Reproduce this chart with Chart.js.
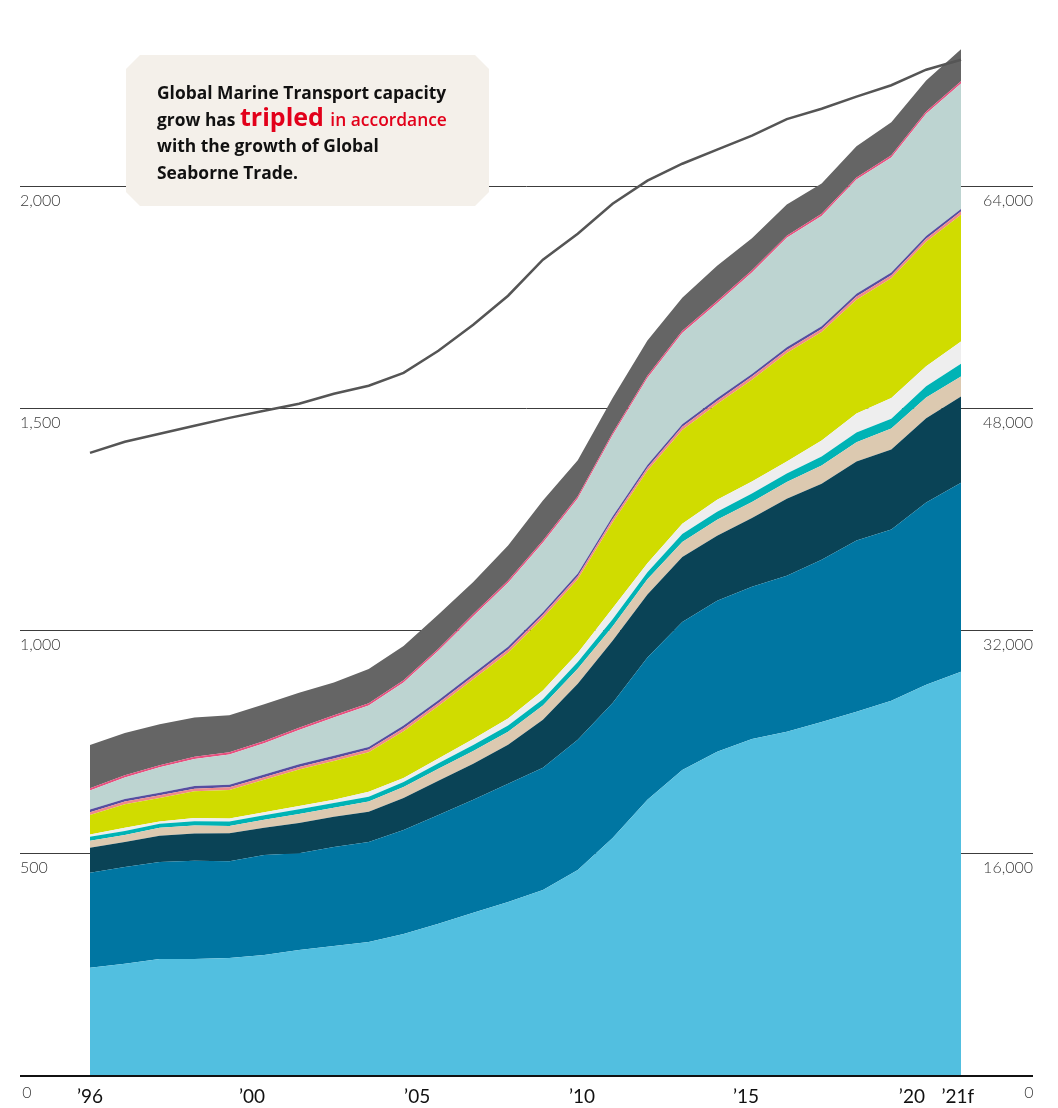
<!DOCTYPE html>
<html>
<head>
<meta charset="utf-8">
<script src="https://cdn.jsdelivr.net/npm/chart.js@4"></script>
<style>
  html, body { margin: 0; padding: 0; background: #fff; }
  #wrap { width: 1058px; height: 1108px; position: relative; }
</style>
</head>
<body>
<div id="wrap"><canvas id="capacityChart"></canvas></div>
<script>
// Years on the x axis
const years = ['1996','1997','1998','1999','2000','2001','2002','2003','2004','2005','2006','2007','2008',
               '2009','2010','2011','2012','2013','2014','2015','2016','2017','2018','2019','2020','2021f'];

// Stacked capacity layers, bottom to top (left axis)
const lightBlue = [241,250,261,261,263,270,281,290,299,317,340,365,389,416,461,533,619,686,727,756,772,794,817,842,878,907];
const midBlue   = [214,218,218,221,218,225,218,223,225,234,245,254,266,275,293,304,320,333,340,342,351,365,385,385,410,425];
const navy      = [56,56,59,61,63,61,68,68,68,72,77,81,88,108,126,140,142,146,146,155,173,171,178,180,189,194];
const tan       = [16,16,18,18,16,18,20,20,23,25,27,29,29,32,34,32,34,34,36,36,38,41,43,47,47,45];
const cyan      = [9,9,9,10,10,10,11,11,11,11,12,13,14,14,15,16,16,18,18,19,19,20,22,22,25,29];
const offWhite  = [5,7,5,7,7,7,7,7,11,9,11,14,16,20,20,25,20,23,27,27,27,36,43,47,45,50];
const lime      = [44,53,53,60,64,73,82,87,89,105,118,134,148,163,166,193,208,211,215,229,244,244,256,269,280,285];
const salmon    = [6,6,6,6,6,6,6,6,6,7,7,7,7,7,7,7,7,7,7,7,7,7,7,7,7,7];
const purple    = [6,6,6,6,6,6,6,6,6,6,6,6,6,6,6,6,6,6,6,6,6,6,6,6,6,6];
const sage      = [43,48,57,61,68,70,77,86,93,97,111,129,144,156,169,183,196,205,214,228,246,248,257,259,275,282];
const pink      = [5,5,5,5,5,5,5,5,5,5,5,5,5,5,5,5,5,5,5,5,5,5,5,5,5,5];
const darkGray  = [97,95,92,88,83,83,79,74,77,77,77,72,79,90,81,79,79,74,79,72,70,68,70,74,70,72];

// Global seaborne trade line (right axis)
const seaborneTrade = [44780,45580,46150,46730,47300,47810,48310,49030,49610,50540,52130,54000,56090,
                       58680,60550,62710,64370,65590,66600,67610,68800,69550,70420,71240,72360,73080];

// Axis ticks
const leftTicks = [0, 500, 1000, 1500, 2000];
const rightTicks = [0, 16000, 32000, 48000, 64000];
const xTickLabels = ['\u201996', '\u201900', '\u201905', '\u201910', '\u201915', '\u201920', '\u201921f'];
const xTickAt = [0, 4.65, 9.39, 14.12, 18.83, 23.59, 24.91];

const layers = [
  { data: lightBlue, color: '#52bfe0' },
  { data: midBlue,   color: '#0076a2' },
  { data: navy,      color: '#0a4356' },
  { data: tan,       color: '#dcc9b0' },
  { data: cyan,      color: '#00b3b5' },
  { data: offWhite,  color: '#eeeeee' },
  { data: lime,      color: '#d0dc00' },
  { data: salmon,    color: '#f08a8a' },
  { data: purple,    color: '#554ea0' },
  { data: sage,      color: '#bdd4d1' },
  { data: pink,      color: '#e8507f' },
  { data: darkGray,  color: '#656565' }
];

const datasets = layers.map((l, i) => ({
  data: l.data,
  yAxisID: 'y',
  backgroundColor: l.color,
  borderWidth: 0,
  pointRadius: 0,
  tension: 0,
  fill: i === 0 ? 'origin' : '-1'
}));
datasets.push({
  data: seaborneTrade,
  yAxisID: 'y2',
  borderColor: '#555555',
  borderWidth: 2.5,
  pointRadius: 0,
  tension: 0,
  fill: false,
  order: -1
});

const fmt = v => v.toLocaleString('en-US');

const decor = {
  id: 'decor',
  beforeDatasetsDraw(chart) {
    const ctx = chart.ctx, y = chart.scales.y, y2 = chart.scales.y2;
    ctx.save();
    ctx.strokeStyle = '#3c3c3c';
    ctx.lineWidth = 1;
    leftTicks.forEach(v => {
      if (v === 0) return;
      const py = Math.round(y.getPixelForValue(v)) + 0.5;
      ctx.beginPath(); ctx.moveTo(20, py); ctx.lineTo(1033, py); ctx.stroke();
    });
    ctx.fillStyle = '#3a3a3a';
    ctx.font = '300 16px Lato';
    ctx.textBaseline = 'alphabetic';
    leftTicks.forEach(v => {
      if (v === 0) return;
      ctx.textAlign = 'left';
      ctx.fillText(fmt(v), 20, y.getPixelForValue(v) + 20);
    });
    rightTicks.forEach(v => {
      if (v === 0) return;
      ctx.textAlign = 'right';
      ctx.fillText(fmt(v), 1033, y2.getPixelForValue(v) + 20);
    });
    ctx.restore();
  },
  afterDatasetsDraw(chart) {
    const ctx = chart.ctx, x = chart.scales.x, y = chart.scales.y;
    ctx.save();
    // baseline
    const by = y.getPixelForValue(0) + 1;
    ctx.strokeStyle = '#111';
    ctx.lineWidth = 2;
    ctx.beginPath(); ctx.moveTo(20, by); ctx.lineTo(1033, by); ctx.stroke();

    ctx.fillStyle = '#3a3a3a';
    ctx.font = '300 16px Lato';
    ctx.textAlign = 'center';
    ctx.fillText('0', 27, by + 22);
    ctx.fillText('0', 1029, by + 22);

    // year labels
    ctx.fillStyle = '#111';
    ctx.font = '19px Lato';
    xTickLabels.forEach((t, i) => {
      ctx.fillText(t, x.getPixelForValue(xTickAt[i]), by + 27);
    });

    // annotation box
    const bx0 = 126, by0 = 55, bx1 = 489, by1 = 206, c = 14;
    ctx.fillStyle = '#f4f0ea';
    ctx.beginPath();
    ctx.moveTo(bx0 + c, by0); ctx.lineTo(bx1 - c, by0); ctx.lineTo(bx1, by0 + c);
    ctx.lineTo(bx1, by1 - c); ctx.lineTo(bx1 - c, by1); ctx.lineTo(bx0 + c, by1);
    ctx.lineTo(bx0, by1 - c); ctx.lineTo(bx0, by0 + c); ctx.closePath();
    ctx.fill();

    ctx.textAlign = 'left';
    ctx.fillStyle = '#111';
    ctx.font = 'bold 17.4px "Open Sans"';
    ctx.fillText('Global Marine Transport capacity', 157, 99);
    let tx = 157;
    ctx.fillText('grow has ', tx, 126);
    tx += ctx.measureText('grow has ').width;
    ctx.fillStyle = '#e2001a';
    ctx.font = 'bold 25px "Open Sans"';
    ctx.fillText('tripled', tx, 126);
    tx += ctx.measureText('tripled ').width;
    ctx.font = '600 17.4px "Open Sans"';
    ctx.fillText('in accordance', tx, 126);
    ctx.fillStyle = '#111';
    ctx.font = 'bold 17.4px "Open Sans"';
    ctx.fillText('with the growth of Global', 157, 152);
    ctx.fillText('Seaborne Trade.', 157, 179);
    ctx.restore();
  }
};

const ctx = document.getElementById('capacityChart').getContext('2d');
const capacityChart = new Chart(ctx, {
  type: 'line',
  data: { labels: years, datasets: datasets },
  options: {
    responsive: true,
    maintainAspectRatio: false,
    animation: false,
    layout: { padding: { left: 90, right: 97, top: 8, bottom: 33 } },
    plugins: { legend: { display: false }, tooltip: { enabled: false } },
    scales: {
      x: { type: 'category', offset: false, display: false },
      y: { stacked: true, min: 0, max: 2400, display: false },
      y2: { position: 'right', min: 0, max: 76800, display: false, stacked: false }
    }
  },
  plugins: [decor]
});
</script>
</body>
</html>
